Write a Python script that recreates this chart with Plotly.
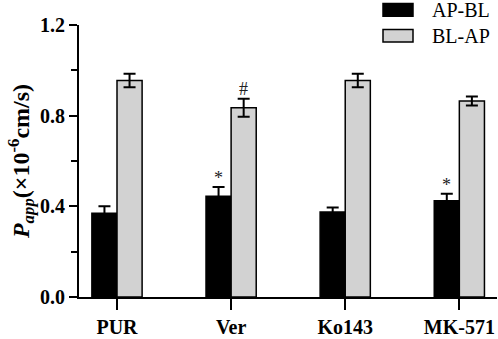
import plotly.graph_objects as go

categories = ["PUR", "Ver", "Ko143", "MK-571"]
series_names = ["AP-BL", "BL-AP"]
ap_bl = [0.37, 0.445, 0.375, 0.425]
ap_bl_err = [0.03, 0.04, 0.02, 0.03]
bl_ap = [0.955, 0.835, 0.955, 0.865]
bl_ap_err = [0.03, 0.04, 0.03, 0.02]
ap_bl_marks = ["", "*", "", "*"]
bl_ap_marks = ["", "#", "", ""]
y_ticks = [0.0, 0.4, 0.8, 1.2]

SERIF = "Liberation Serif"
colors = ["#000000", "#d2d2d2"]

fig = go.Figure()
for name, vals, errs, col in [(series_names[0], ap_bl, ap_bl_err, colors[0]),
                              (series_names[1], bl_ap, bl_ap_err, colors[1])]:
    fig.add_trace(go.Bar(
        x=categories, y=vals, name=name,
        marker=dict(color=col, line=dict(color="black", width=1.5)),
        error_y=dict(type="data", array=errs, visible=True, color="black",
                     thickness=2, width=6),
        showlegend=False,
    ))

# significance marks
for i, c in enumerate(categories):
    if ap_bl_marks[i]:
        fig.add_annotation(x=c, y=ap_bl[i] + ap_bl_err[i], text=ap_bl_marks[i],
                           xshift=-12.5, yshift=9, showarrow=False,
                           font=dict(family=SERIF, size=18, color="#222222"))
    if bl_ap_marks[i]:
        fig.add_annotation(x=c, y=bl_ap[i] + bl_ap_err[i], text=bl_ap_marks[i],
                           xshift=12.5, yshift=10, showarrow=False,
                           font=dict(family=SERIF, size=18, color="#222222"))

# custom legend
leg_y = [339 - 9.5, 339 - 36]
for k, name in enumerate(series_names):
    yc = leg_y[k]
    fig.add_shape(type="rect", xref="paper", yref="paper",
                  x0=(383 - 79) / 418, x1=(413 - 79) / 418,
                  y0=(yc - 6.5 - 35) / 279, y1=(yc + 6.5 - 35) / 279,
                  fillcolor=colors[k], line=dict(color="black", width=1.5))
    fig.add_annotation(xref="paper", yref="paper", x=(430 - 79) / 418,
                       y=(yc - 35) / 279, text=name, showarrow=False,
                       xanchor="left", yanchor="middle",
                       font=dict(family=SERIF, size=20, color="black"))

fig.update_layout(
    width=498, height=339,
    margin=dict(l=79, r=1, t=25, b=35),
    paper_bgcolor="white", plot_bgcolor="white",
    barmode="group", bargap=0.56, bargroupgap=0,
    font=dict(family=SERIF, color="black"),
    xaxis=dict(
        range=[-0.333, 3.33], showline=True, linecolor="black", linewidth=2,
        ticks="outside", ticklen=11, tickwidth=2, tickcolor="black",
        tickfont=dict(family=SERIF, size=20, color="black", weight="bold"),
        showgrid=False, zeroline=False,
    ),
    yaxis=dict(
        range=[0, 1.2], tickvals=y_ticks,
        ticktext=[f"{v:.1f}" for v in y_ticks],
        showline=True, linecolor="black", linewidth=2,
        ticks="outside", ticklen=8, tickwidth=2, tickcolor="black",
        minor=dict(dtick=0.2, tick0=0, ticks="outside", ticklen=6,
                   tickwidth=2, tickcolor="black", showgrid=False),
        tickfont=dict(family=SERIF, size=20, color="black", weight="bold"),
        showgrid=False, zeroline=False,
        title=dict(text="<b><i>P</i><sub><i>app</i></sub>(×10<sup>-6</sup>cm/s)</b>",
                   font=dict(family=SERIF, size=24, color="black"), standoff=4),
    ),
)

fig.write_html("out.html", config={"displayModeBar": False},
               post_script="document.body.style.margin='0';document.body.style.overflow='hidden';")
